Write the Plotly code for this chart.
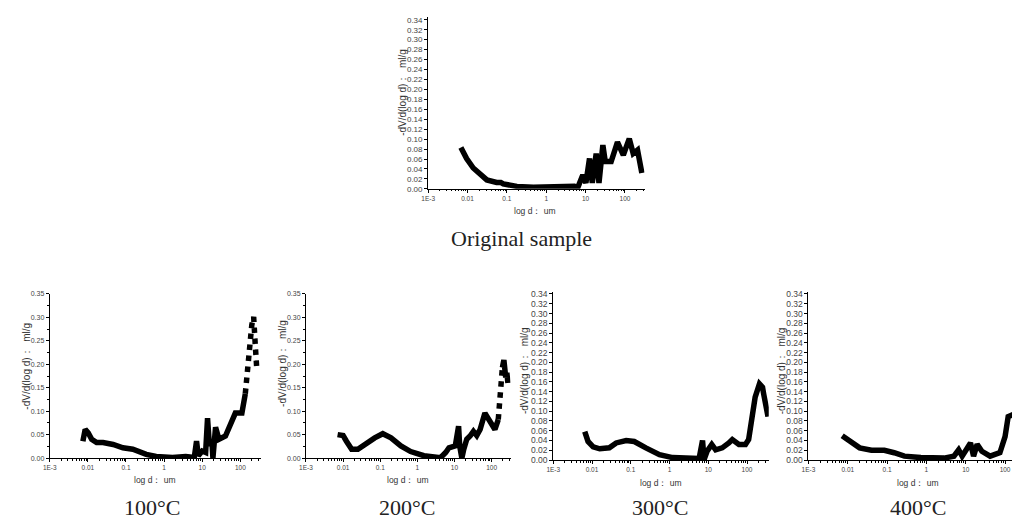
import plotly.graph_objects as go

# ---- data (pore diameter d in um, -dV/d(log d) in ml/g) ----
orig_d = [0.0068, 0.0095, 0.014, 0.021, 0.031, 0.055, 0.07, 0.081, 0.18, 0.47, 1.6, 4.0, 5.2, 6.3,
          7.1, 8.5, 10.2, 12.6, 14.8, 18.6, 21.9, 27.5, 31.6, 44.7, 64.6, 91, 129, 162, 209, 269]
orig_v = [0.083, 0.061, 0.042, 0.028, 0.018, 0.013, 0.013, 0.010, 0.005, 0.003, 0.003, 0.004, 0.005, 0.002,
          0.012, 0.028, 0.012, 0.061, 0.012, 0.071, 0.012, 0.088, 0.055, 0.055, 0.094, 0.068, 0.101, 0.071, 0.078, 0.032]

t100_d = [0.0074, 0.0085, 0.0102, 0.0126, 0.017, 0.025, 0.046, 0.083, 0.151, 0.34, 0.62, 1.66, 3.7, 6.2,
          7.1, 7.9, 10, 12.3, 13.8, 15.5, 17.8, 19.1, 22.4, 27.5, 40.7, 60, 74, 110, 135, 148, 170, 200, 224,
          226, 245, 269]
t100_v = [0.036, 0.061, 0.054, 0.040, 0.033, 0.033, 0.029, 0.022, 0.019, 0.008, 0.0035, 0.0014, 0.0035, 0.0014,
          0.036, 0.005, 0.015, 0.012, 0.085, 0.026, 0.040, 0.0, 0.066, 0.040, 0.047, 0.075, 0.096, 0.096, 0.137,
          0.172, 0.242, 0.284, 0.301, 0.273, 0.245, 0.193]

t200_d = [0.0071, 0.010, 0.0123, 0.017, 0.025, 0.038, 0.071, 0.117, 0.195, 0.36, 0.66, 1.5, 4.2, 5.8,
          7.1, 10.5, 12.9, 13.8, 15.8, 17.8, 21.4, 26.3, 32.4, 39.8, 49, 66, 91, 123, 151, 166, 186, 195,
          214, 240, 257, 275]
t200_v = [0.050, 0.048, 0.036, 0.019, 0.019, 0.029, 0.043, 0.052, 0.043, 0.026, 0.014, 0.005, 0.0007, 0.012,
          0.022, 0.026, 0.068, 0.026, 0.0, 0.019, 0.040, 0.047, 0.057, 0.048, 0.061, 0.096, 0.075, 0.061, 0.082,
          0.116, 0.151, 0.193, 0.209, 0.172, 0.182, 0.160]

t300_d = [0.0065, 0.0079, 0.0107, 0.0158, 0.028, 0.042, 0.076, 0.123, 0.245, 0.55, 1.2, 2.6, 5.8,
          7.1, 7.8, 9.3, 12.3, 15.5, 22.9, 33.9, 41.7, 61.7, 91, 110, 162, 209, 251, 269, 324, 347]
t300_v = [0.058, 0.038, 0.027, 0.023, 0.025, 0.035, 0.040, 0.038, 0.025, 0.011, 0.005, 0.004, 0.003,
          0.040, 0.001, 0.018, 0.032, 0.021, 0.025, 0.035, 0.042, 0.032, 0.032, 0.042, 0.129, 0.156, 0.149,
          0.135, 0.102, 0.089]

t400_d = [0.0072, 0.0123, 0.020, 0.040, 0.085, 0.151, 0.275, 0.72, 2.8, 5.0, 6.6, 8.1, 13.2, 15.8,
          19.5, 25.7, 41.7, 74, 100, 120, 178, 240, 282]
t400_v = [0.050, 0.035, 0.025, 0.020, 0.020, 0.015, 0.008, 0.005, 0.004, 0.008, 0.021, 0.008, 0.035, 0.008,
          0.032, 0.018, 0.008, 0.015, 0.048, 0.089, 0.095, 0.115, 0.120]

# index ranges of the steep, sparsely sampled stretches that show as separate square points
sparse_ranges = [None, (28, 36), (28, 31), None, None]

x_tickvals = [0.001, 0.01, 0.1, 1, 10, 100]
x_ticktext = ["1E-3", "0.01", "0.1", "1", "10", "100"]
x_minor = [m * 10 ** e for e in (-3, -2, -1, 0, 1, 2) for m in range(2, 10)]

captions = ["Original sample", "100\u00b0C", "200\u00b0C", "300\u00b0C", "400\u00b0C"]
x_title = "log d\uff1a um"
y_title = "-dV/d(log d)\uff1a  ml/g"

# the page body adds an 8 px margin, so the figure starts at (8, 8) in the window
OFF_X, OFF_Y = 8, 8
W, H = 1012, 516


def fx(px):
    return (px - OFF_X) / W


def fy(py):
    return 1 - (py - OFF_Y) / H


# panel geometry in window pixels: x_left, x_right, y_top, y_bottom, xmax(log), ymax, ytick, yminor, ytick font
panels = [
    (424, 642, 13.4, 188, 2.50, 0.345, 0.02, None, 8),
    (43, 256, 295, 462, 2.55, 0.35, 0.05, 0.025, 7),
    (301, 507, 295, 462, 2.51, 0.35, 0.05, 0.025, 7),
    (550, 767, 293, 464, 2.56, 0.344, 0.02, None, 8.5),
    (807, 1020, 293, 464, 2.38, 0.344, 0.02, None, 8.5),
]
series = [(orig_d, orig_v), (t100_d, t100_v), (t200_d, t200_v), (t300_d, t300_v), (t400_d, t400_v)]
caption_pos = [(518, 239), (146, 512), (403, 512), (657, 512), (917, 512)]
xtitle_pos = [(532, 211), (149, 484), (404, 484), (659, 487), (917, 487)]
ytitle_pos = [(398, 90), (20, 368), (278, 366), (521, 373), (780, 373)]

fig = go.Figure()
xtickfont = dict(family="Liberation Sans", size=6.5, color="#444444")
annotations = []
for i, ((xl, xr, yt, yb, xmax, ymax, ytick, yminor, yfs), (d, v)) in enumerate(zip(panels, series)):
    n = "" if i == 0 else str(i + 1)
    sr = sparse_ranges[i]
    if sr is None:
        pieces = [(d, v, "solid")]
    else:
        a, b = sr
        pieces = [(d[:a + 1], v[:a + 1], "solid"), (d[a:b + 1], v[a:b + 1], "dot")]
        if b < len(d) - 1:
            pieces.append((d[b:], v[b:], "solid"))
    for pd_, pv_, dash in pieces:
        fig.add_trace(go.Scatter(x=pd_, y=pv_, mode="lines",
                                 line=dict(color="black", width=5.5, dash=dash),
                                 xaxis="x" + n, yaxis="y" + n, showlegend=False, hoverinfo="skip"))
    xa = dict(type="log", range=[-3, xmax], domain=[fx(xl), min(fx(xr), 1.0)], anchor="y" + n,
              showgrid=False, zeroline=False, showline=True, linecolor="black", linewidth=1,
              ticks="outside", ticklen=3, tickwidth=1, tickcolor="black",
              tickvals=x_tickvals, ticktext=x_ticktext, tickfont=xtickfont,
              minor=dict(tickvals=x_minor, ticklen=1.5, tickcolor="black", ticks="outside"))
    ya = dict(range=[0, ymax], domain=[fy(yb), fy(yt)], anchor="x" + n,
              showgrid=False, zeroline=False, showline=True, linecolor="black", linewidth=1,
              ticks="outside", ticklen=3, tickwidth=1, tickcolor="black",
              tick0=0, dtick=ytick, tickformat=".2f",
              tickfont=dict(family="Liberation Sans", size=yfs, color="#444444"))
    if yminor:
        ya["minor"] = dict(dtick=yminor, tick0=0, ticklen=1.5, tickcolor="black", ticks="outside")
    fig.layout["xaxis" + n] = xa
    fig.layout["yaxis" + n] = ya
    cx, cy = caption_pos[i]
    annotations.append(dict(x=fx(cx), y=fy(cy), xref="paper", yref="paper", text=captions[i],
                            showarrow=False, xanchor="center", yanchor="middle",
                            font=dict(family="Liberation Serif", size=22, color="#222222")))
    tx, ty = xtitle_pos[i]
    annotations.append(dict(x=fx(tx), y=fy(ty), xref="paper", yref="paper", text=x_title,
                            showarrow=False, xanchor="center", yanchor="middle",
                            font=dict(family="Liberation Sans", size=8.5, color="#333333")))
    yx, yy = ytitle_pos[i]
    annotations.append(dict(x=fx(yx), y=fy(yy), xref="paper", yref="paper", text=y_title,
                            showarrow=False, xanchor="center", yanchor="middle", textangle=-90,
                            font=dict(family="Liberation Sans", size=10, color="#333333")))

fig.update_layout(width=W, height=H, margin=dict(l=0, r=0, t=0, b=0),
                  paper_bgcolor="white", plot_bgcolor="white", annotations=annotations)
fig.write_html("out.html")
